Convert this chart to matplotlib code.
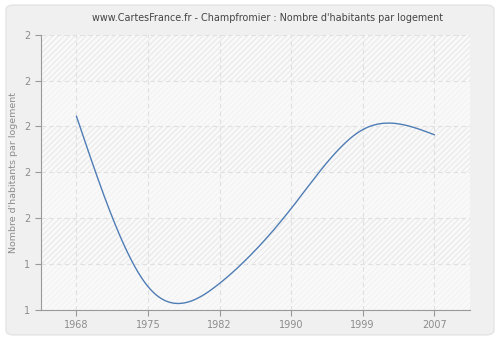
import numpy as np
import matplotlib
matplotlib.use("Agg")
import matplotlib.pyplot as plt
from matplotlib.patches import FancyBboxPatch, Rectangle

years = ["1968", "1975", "1982", "1990", "1999", "2007"]
values = [1.722, 1.351, 1.358, 1.521, 1.693, 1.682]
y_ticks = [1.3, 1.4, 1.5, 1.6, 1.7, 1.8, 1.9]
y_tick_labels = ["1", "1", "2", "2", "2", "2", "2"]
title = "www.CartesFrance.fr - Champfromier : Nombre d'habitants par logement"
ylabel = "Nombre d'habitants par logement"


def natural_spline(x, y, xs):
    x = np.asarray(x, float); y = np.asarray(y, float)
    n = len(x)
    h = np.diff(x)
    A = np.zeros((n, n)); b = np.zeros(n)
    A[0, 0] = 1; A[-1, -1] = 1
    for i in range(1, n - 1):
        A[i, i - 1] = h[i - 1]
        A[i, i] = 2 * (h[i - 1] + h[i])
        A[i, i + 1] = h[i]
        b[i] = 3 * ((y[i + 1] - y[i]) / h[i] - (y[i] - y[i - 1]) / h[i - 1])
    c = np.linalg.solve(A, b)
    out = np.empty_like(xs)
    for k, xv in enumerate(xs):
        i = min(max(np.searchsorted(x, xv) - 1, 0), n - 2)
        dx = xv - x[i]
        bi = (y[i + 1] - y[i]) / h[i] - h[i] * (2 * c[i] + c[i + 1]) / 3
        di = (c[i + 1] - c[i]) / (3 * h[i])
        out[k] = y[i] + bi * dx + c[i] * dx ** 2 + di * dx ** 3
    return out


plt.rcParams["hatch.linewidth"] = 0.6
fig = plt.figure(figsize=(5, 3.4), dpi=100)
fig.patch.set_facecolor("white")
bg = FancyBboxPatch((0.012, 0.015), 0.976, 0.97, boxstyle="round,pad=0,rounding_size=0.015",
                    transform=fig.transFigure, facecolor="#f0f0f0", edgecolor="#e4e4e4",
                    linewidth=1, zorder=-10)
fig.add_artist(bg)

ax = fig.add_axes([0.0814, 0.0882, 0.8586, 0.8098])
ax.set_zorder(1)
ax.set_facecolor("#f9f9f9")
ax.add_patch(Rectangle((0, 0), 1, 1, transform=ax.transAxes, facecolor="none",
                       edgecolor="#f1f1f1", hatch="//////", linewidth=0, zorder=0))
# alternating stronger hatched bands between horizontal grid lines
for k in range(1, len(y_ticks) - 1, 2):
    ax.add_patch(Rectangle((-0.5, y_ticks[k]), len(years), y_ticks[k + 1] - y_ticks[k],
                           facecolor="none", edgecolor="#e8e8e8", hatch="//////",
                           linewidth=0, zorder=0))

xi = np.arange(len(years))
xs = np.linspace(0, len(years) - 1, 400)
ax.plot(xs, natural_spline(xi, values, xs), color="#4f7db5", linewidth=1.0, zorder=3)

ax.set_xlim(-0.5, len(years) - 0.5)
ax.set_ylim(1.3, 1.9)
ax.set_xticks(xi)
ax.set_xticklabels(years)
ax.set_yticks(y_ticks)
ax.set_yticklabels(y_tick_labels)

ax.grid(True, color="#e0e0e0", linestyle=(0, (4, 3)), linewidth=0.8)
ax.set_axisbelow(True)
for s in ["top", "right"]:
    ax.spines[s].set_visible(False)
for s in ["left", "bottom"]:
    ax.spines[s].set_color("#999999")
ax.tick_params(axis="both", colors="#999999", labelcolor="#8c8c8c", labelsize=7,
               length=4, width=0.8)
ax.set_ylabel(ylabel, color="#8c8c8c", fontsize=6.8, labelpad=4)
fig.text(0.534, 0.947, title, ha="center", va="center", fontsize=6.95, color="#444444")

fig.savefig("out.png", dpi=100, facecolor=fig.get_facecolor())
